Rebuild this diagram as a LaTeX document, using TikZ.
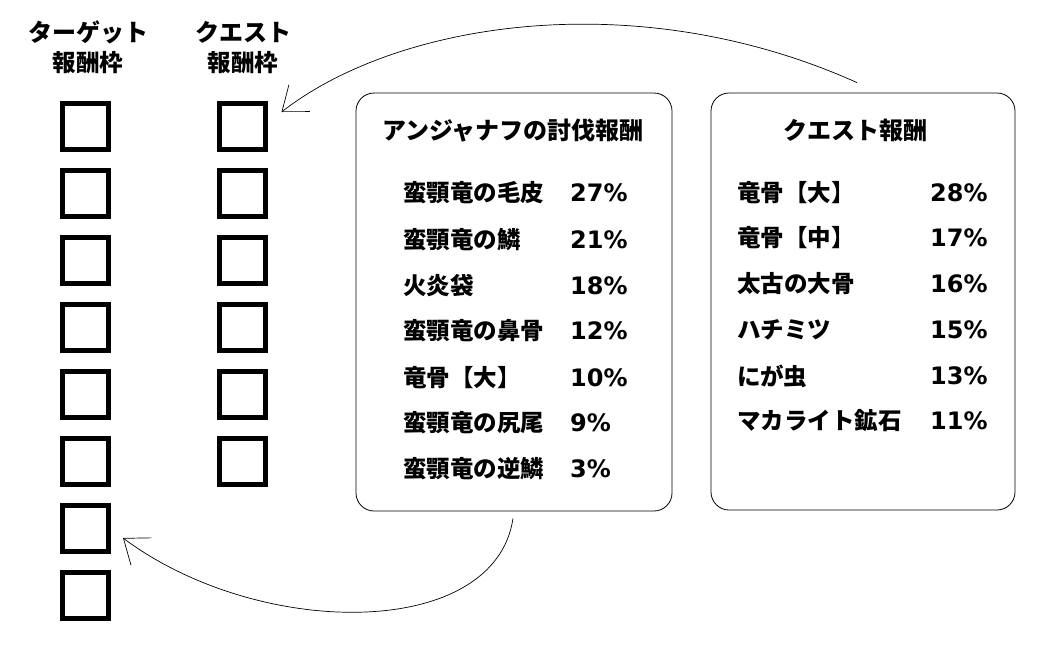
\documentclass[tikz,border=0pt]{standalone}
\usepackage{fontspec}
\setmainfont{Noto Sans CJK JP}
\newfontfamily\pct{DejaVu Sans}
\usetikzlibrary{arrows.meta,calc}
\tikzset{
  slot/.style={draw=black, line width=5pt, minimum size=46pt, inner sep=0pt},
  panel/.style={draw=black, line width=0.8pt, rounded corners=18pt, inner sep=0pt},
  head/.style={font=\fontsize{24}{26}\selectfont\bfseries, inner sep=0pt},
  sub/.style={font=\fontsize{23.5}{26}\selectfont\bfseries, inner sep=0pt},
  ttl/.style={font=\fontsize{24}{26}\selectfont\bfseries, inner sep=0pt},
  item/.style={font=\fontsize{23.5}{26}\selectfont\bfseries, anchor=west, inner sep=0pt},
  val/.style={font=\pct\fontsize{24}{26}\selectfont\bfseries, anchor=west, inner sep=0pt},
  flow/.style={line width=0.7pt, -{Straight Barb[length=22pt, width=34pt, line width=0.7pt]}}
}
\begin{document}
\begin{tikzpicture}[x=1pt,y=-1pt]
\useasboundingbox (0,0) rectangle (1049,651);
% headings
\node[head] (th1) at (88,32) {ターゲット};
\node[sub]  (th2) at (88,63) {報酬枠};
\node[head] (qh1) at (243,32) {クエスト};
\node[sub]  (qh2) at (243,63) {報酬枠};
% target slots
\foreach \i in {1,...,8} {
  \node[slot] (t\i) at (85.5,{126+67*(\i-1)}) {};
}
% quest slots
\foreach \i in {1,...,6} {
  \node[slot] (q\i) at (242,{126+67*(\i-1)}) {};
}
% panels
\node[panel, minimum width=316pt, minimum height=418pt] (hunt) at (514,302) {};
\node[panel, minimum width=304pt, minimum height=417pt] (qbox) at (863,301.5) {};
% hunt panel text
\node[ttl] (hT) at (513,131) {アンジャナフの討伐報酬};
\node[item] (h1) at (403,193) {蛮顎竜の毛皮};
\node[val]  (v1) at (570,193) {27\%};
\node[item] (h2) at (403,240) {蛮顎竜の鱗};
\node[val]  (v2) at (570,240) {21\%};
\node[item] (h3) at (403,286) {火炎袋};
\node[val]  (v3) at (570,286) {18\%};
\node[item] (h4) at (403,331) {蛮顎竜の鼻骨};
\node[val]  (v4) at (570,331) {12\%};
\node[item] (h5) at (403,378) {竜骨【大】};
\node[val]  (v5) at (570,378) {10\%};
\node[item] (h6) at (403,423) {蛮顎竜の尻尾};
\node[val]  (v6) at (570,423) {9\%};
\node[item] (h7) at (403,469) {蛮顎竜の逆鱗};
\node[val]  (v7) at (570,469) {3\%};
% quest panel text
\node[ttl] (qT) at (855,130) {クエスト報酬};
\node[item] (r1) at (737,193) {竜骨【大】};
\node[val]  (w1) at (930,193) {28\%};
\node[item] (r2) at (737,238) {竜骨【中】};
\node[val]  (w2) at (930,238) {17\%};
\node[item] (r3) at (737,284) {太古の大骨};
\node[val]  (w3) at (930,284) {16\%};
\node[item] (r4) at (737,330) {ハチミツ};
\node[val]  (w4) at (930,330) {15\%};
\node[item] (r5) at (737,376) {にが虫};
\node[val]  (w5) at (930,376) {13\%};
\node[item] (r6) at (737,421) {マカライト鉱石};
\node[val]  (w6) at (930,421) {11\%};
% connectors
\coordinate (topS) at ($(qbox.north)+(-6,-10)$);
\coordinate (topE) at ($(q1.east)+(14,-14)$);
\coordinate (botS) at ($(hunt.south)+(-1,7)$);
\coordinate (botE) at ($(t7.east)+(12,10)$);
\draw[flow] (topS) .. controls (640,-15) and (400,20) .. (topE);
\draw[flow] (botS) .. controls (495,640) and (260,640) .. (botE);
\end{tikzpicture}
\end{document}
